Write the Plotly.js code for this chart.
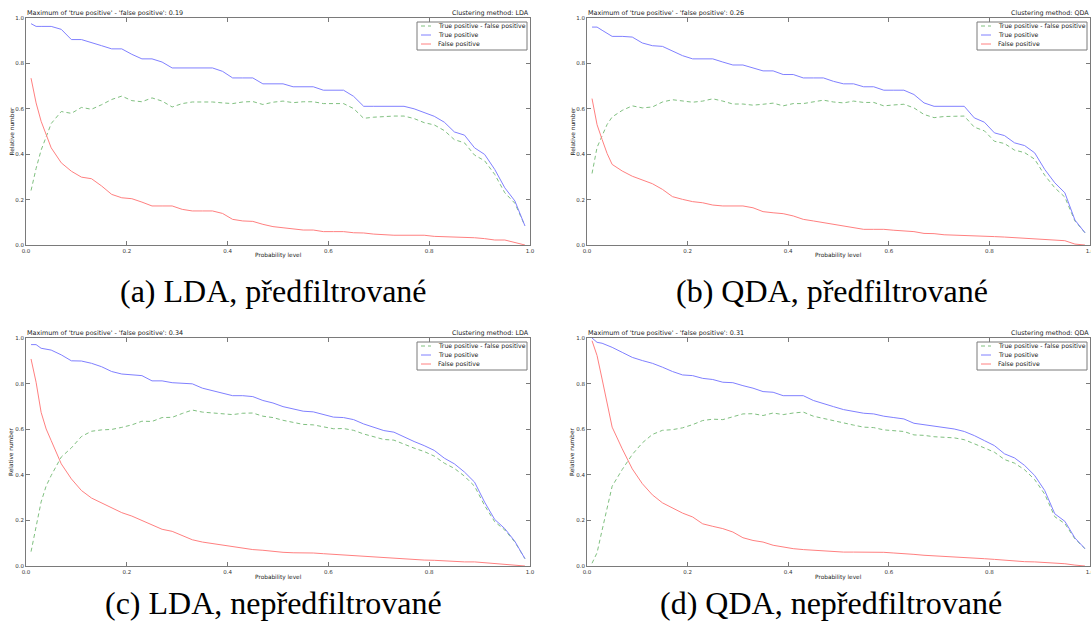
<!DOCTYPE html>
<html>
<head>
<meta charset="utf-8">
<script src="https://cdn.plot.ly/plotly-3.0.1.min.js"></script>
<style>html,body{margin:0;padding:0;background:#fff;}#chart{width:1091px;height:625px;}</style>
</head>
<body>
<div id="chart"></div>
<script>
// ---------- data ----------
const probLevel = [0.01,0.02,0.03,0.04,0.05,0.07,0.09,0.11,0.13,0.15,0.17,0.19,0.21,0.23,0.25,0.27,0.29,0.31,0.33,0.35,0.37,0.39,0.41,0.43,0.45,0.47,0.49,0.51,0.53,0.55,0.57,0.59,0.61,0.63,0.65,0.67,0.69,0.71,0.73,0.75,0.77,0.79,0.81,0.83,0.85,0.87,0.89,0.91,0.93,0.95,0.97,0.99];

// (a) LDA, předfiltrované
const tpA = [0.975,0.963,0.963,0.963,0.963,0.95,0.905,0.905,0.89,0.878,0.864,0.864,0.84,0.82,0.82,0.806,0.78,0.78,0.78,0.78,0.78,0.765,0.736,0.736,0.736,0.71,0.71,0.71,0.697,0.697,0.697,0.682,0.682,0.682,0.655,0.611,0.611,0.611,0.611,0.611,0.60,0.582,0.567,0.541,0.498,0.484,0.428,0.399,0.333,0.252,0.194,0.084];
const fpA = [0.735,0.626,0.545,0.487,0.428,0.362,0.325,0.299,0.292,0.26,0.223,0.208,0.204,0.189,0.172,0.172,0.172,0.157,0.15,0.15,0.15,0.139,0.113,0.106,0.104,0.091,0.081,0.076,0.07,0.066,0.066,0.059,0.059,0.059,0.054,0.053,0.048,0.044,0.043,0.043,0.043,0.043,0.038,0.037,0.034,0.034,0.032,0.028,0.022,0.022,0.01,0.0];
const diffA = [0.24,0.337,0.418,0.476,0.535,0.588,0.58,0.606,0.598,0.618,0.641,0.656,0.636,0.631,0.648,0.634,0.608,0.623,0.63,0.63,0.63,0.626,0.623,0.63,0.632,0.619,0.629,0.634,0.627,0.631,0.631,0.623,0.623,0.623,0.601,0.558,0.563,0.567,0.568,0.568,0.557,0.539,0.529,0.504,0.464,0.45,0.396,0.371,0.311,0.23,0.184,0.084];

// (b) QDA, předfiltrované
const tpB = [0.96,0.96,0.946,0.934,0.919,0.919,0.916,0.89,0.878,0.875,0.853,0.834,0.82,0.82,0.82,0.806,0.793,0.793,0.78,0.767,0.767,0.751,0.751,0.736,0.736,0.736,0.721,0.71,0.71,0.697,0.697,0.682,0.682,0.682,0.663,0.626,0.611,0.611,0.611,0.611,0.56,0.541,0.494,0.482,0.45,0.438,0.406,0.333,0.274,0.23,0.11,0.054];
const fpB = [0.645,0.53,0.465,0.403,0.355,0.326,0.303,0.286,0.27,0.245,0.213,0.201,0.191,0.186,0.176,0.172,0.172,0.172,0.164,0.147,0.142,0.138,0.128,0.113,0.106,0.098,0.091,0.084,0.076,0.069,0.069,0.069,0.065,0.062,0.059,0.051,0.05,0.045,0.044,0.043,0.041,0.038,0.037,0.035,0.032,0.031,0.028,0.026,0.022,0.019,0.004,0.0];
const diffB = [0.315,0.43,0.481,0.531,0.564,0.593,0.613,0.604,0.608,0.63,0.64,0.633,0.629,0.634,0.644,0.634,0.621,0.621,0.616,0.62,0.625,0.613,0.623,0.623,0.63,0.638,0.63,0.626,0.634,0.628,0.628,0.613,0.617,0.62,0.604,0.575,0.561,0.566,0.567,0.568,0.519,0.503,0.457,0.447,0.418,0.407,0.378,0.307,0.252,0.211,0.106,0.054];

// (c) LDA, nepředfiltrované
const tpC = [0.971,0.971,0.955,0.952,0.947,0.926,0.90,0.899,0.889,0.874,0.853,0.842,0.838,0.835,0.812,0.812,0.804,0.803,0.799,0.78,0.769,0.756,0.747,0.747,0.743,0.726,0.715,0.699,0.689,0.679,0.676,0.663,0.653,0.651,0.642,0.623,0.609,0.594,0.587,0.565,0.546,0.528,0.507,0.473,0.448,0.412,0.368,0.28,0.204,0.164,0.108,0.032];
const fpC = [0.908,0.806,0.674,0.601,0.55,0.448,0.382,0.331,0.298,0.277,0.254,0.234,0.219,0.20,0.178,0.161,0.152,0.134,0.115,0.105,0.098,0.091,0.083,0.077,0.072,0.069,0.064,0.06,0.058,0.058,0.057,0.054,0.051,0.048,0.047,0.044,0.041,0.039,0.035,0.032,0.029,0.026,0.025,0.022,0.02,0.018,0.018,0.015,0.01,0.006,0.003,0.0];
const diffC = [0.063,0.165,0.281,0.351,0.397,0.478,0.518,0.568,0.591,0.597,0.599,0.608,0.619,0.635,0.634,0.651,0.652,0.669,0.684,0.675,0.671,0.665,0.664,0.67,0.671,0.657,0.651,0.639,0.631,0.621,0.619,0.609,0.602,0.603,0.595,0.579,0.568,0.555,0.552,0.533,0.517,0.502,0.482,0.451,0.428,0.394,0.35,0.265,0.194,0.158,0.105,0.032];

// (d) QDA, nepředfiltrované
const tpD = [1.0,0.981,0.977,0.968,0.959,0.937,0.915,0.901,0.889,0.872,0.853,0.838,0.835,0.823,0.818,0.806,0.804,0.791,0.78,0.765,0.762,0.747,0.747,0.747,0.726,0.711,0.699,0.686,0.679,0.67,0.667,0.657,0.651,0.645,0.626,0.62,0.612,0.606,0.601,0.59,0.572,0.55,0.528,0.492,0.474,0.441,0.397,0.331,0.229,0.196,0.123,0.076];
const fpD = [0.988,0.923,0.82,0.718,0.609,0.514,0.426,0.361,0.312,0.277,0.255,0.232,0.215,0.185,0.174,0.164,0.149,0.124,0.112,0.105,0.091,0.083,0.076,0.072,0.069,0.064,0.063,0.061,0.061,0.061,0.06,0.06,0.057,0.055,0.051,0.047,0.045,0.042,0.039,0.036,0.035,0.032,0.029,0.025,0.023,0.019,0.018,0.016,0.013,0.01,0.004,0.0];
const diffD = [0.012,0.058,0.157,0.25,0.35,0.423,0.489,0.54,0.577,0.595,0.598,0.606,0.62,0.638,0.644,0.642,0.655,0.667,0.668,0.66,0.671,0.664,0.671,0.675,0.657,0.647,0.636,0.625,0.618,0.609,0.607,0.597,0.594,0.59,0.575,0.573,0.567,0.564,0.562,0.554,0.537,0.518,0.499,0.467,0.451,0.422,0.379,0.315,0.216,0.186,0.119,0.076];

const seriesNames = ["True positive - false positive", "True positive", "False positive"];
const maxLabels = ["0.19", "0.26", "0.34", "0.31"];
const methods = ["LDA", "QDA", "LDA", "QDA"];
const captions = ["(a) LDA, předfiltrované", "(b) QDA, předfiltrované", "(c) LDA, nepředfiltrované", "(d) QDA, nepředfiltrované"];
const tickVals = [0, 0.2, 0.4, 0.6, 0.8, 1.0];
const tickText = ["0.0", "0.2", "0.4", "0.6", "0.8", "1.0"];
const xAxisTitle = "Probability level";
const yAxisTitle = "Relative number";

const panelData = [
  [diffA, tpA, fpA],
  [diffB, tpB, fpB],
  [diffC, tpC, fpC],
  [diffD, tpD, fpD]
];

// ---------- layout geometry (pixels) ----------
const W = 1091, H = 625;
const boxes = [
  {x0: 26, x1: 530, y0: 18, y1: 245},
  {x0: 587, x1: 1090, y0: 18, y1: 245},
  {x0: 26, x1: 530, y0: 338, y1: 566},
  {x0: 587, x1: 1090, y0: 338, y1: 566}
];
const captionPos = [{x: 273, y: 291}, {x: 832, y: 291}, {x: 273, y: 603}, {x: 831, y: 603}];
const px = x => x / W;
const py = y => 1 - y / H;

const lineStyles = [
  {color: "#80c080", width: 1, dash: "4px,3px"},
  {color: "#8080ff", width: 1, dash: "solid"},
  {color: "#ff8080", width: 1, dash: "solid"}
];
const small = "DejaVu Sans, Bitstream Vera Sans, sans-serif";
const serifFont = "'Liberation Serif', 'Times New Roman', Times, 'DejaVu Serif', serif";
const axisColor = "#7a7a7a";

const traces = [];
const layout = {
  width: W, height: H,
  margin: {l: 0, r: 0, t: 0, b: 0},
  paper_bgcolor: "#ffffff",
  plot_bgcolor: "#ffffff",
  showlegend: false,
  font: {family: small, size: 6, color: "#222"},
  annotations: [],
  shapes: []
};

boxes.forEach((b, i) => {
  const n = i + 1;
  const xa = "xaxis" + (n === 1 ? "" : n), ya = "yaxis" + (n === 1 ? "" : n);
  const xr = "x" + (n === 1 ? "" : n), yr = "y" + (n === 1 ? "" : n);
  panelData[i].forEach((vals, k) => {
    traces.push({
      type: "scatter", mode: "lines",
      x: probLevel, y: vals,
      xaxis: xr, yaxis: yr,
      name: seriesNames[k],
      line: lineStyles[k],
      hoverinfo: "skip"
    });
  });
  const common = {
    range: [0, 1], tickvals: tickVals, ticktext: tickText,
    showline: true, mirror: "ticks", linecolor: axisColor, linewidth: 1,
    ticks: "inside", ticklen: 4, tickcolor: axisColor, tickwidth: 1,
    showgrid: false, zeroline: false, fixedrange: true,
    ticklabeloverflow: "allow",
    tickfont: {family: small, size: 5.5, color: "#333"}
  };
  layout[xa] = Object.assign({}, common, {domain: [px(b.x0), px(b.x1)], anchor: yr, ticklabelstandoff: 0});
  layout[ya] = Object.assign({}, common, {domain: [py(b.y1), py(b.y0)], anchor: xr, ticklabelstandoff: 0});

  // titles above plot
  layout.annotations.push({
    xref: "paper", yref: "paper", x: px(b.x0), y: py(b.y0 - 0.5), xanchor: "left", yanchor: "bottom",
    text: "Maximum of 'true positive' - 'false positive': " + maxLabels[i], showarrow: false,
    font: {family: small, size: 6.4, color: "#222"}, borderpad: 0
  });
  layout.annotations.push({
    xref: "paper", yref: "paper", x: px(b.x1), y: py(b.y0 - 0.5), xanchor: "right", yanchor: "bottom",
    text: "Clustering method: " + methods[i], showarrow: false,
    font: {family: small, size: 6.4, color: "#222"}, borderpad: 0
  });
  // axis titles
  layout.annotations.push({
    xref: "paper", yref: "paper", x: px((b.x0 + b.x1) / 2), y: py(b.y1 + 11), xanchor: "center", yanchor: "middle",
    text: xAxisTitle, showarrow: false, font: {family: small, size: 5.8, color: "#222"}, borderpad: 0
  });
  layout.annotations.push({
    xref: "paper", yref: "paper", x: px(b.x0 - 15), y: py((b.y0 + b.y1) / 2), xanchor: "center", yanchor: "middle",
    text: yAxisTitle, textangle: -90, showarrow: false, font: {family: small, size: 5.8, color: "#222"}, borderpad: 0
  });
  // caption
  layout.annotations.push({
    xref: "paper", yref: "paper", x: px(captionPos[i].x), y: py(captionPos[i].y), xanchor: "center", yanchor: "middle",
    text: captions[i], showarrow: false, font: {family: serifFont, size: 32, color: "#000"}
  });

  // legend box (drawn manually, matplotlib-style)
  const lr = b.x1 - 3, lt = b.y0 + 4, lw = 110, lh = 28;
  layout.shapes.push({
    type: "rect", xref: "paper", yref: "paper",
    x0: px(lr - lw), x1: px(lr), y0: py(lt + lh), y1: py(lt),
    line: {color: axisColor, width: 1}, fillcolor: "#ffffff", layer: "above"
  });
  seriesNames.forEach((name, k) => {
    const yy = lt + 4 + k * 9;
    layout.shapes.push({
      type: "line", xref: "paper", yref: "paper",
      x0: px(lr - lw + 4), x1: px(lr - lw + 14), y0: py(yy), y1: py(yy),
      line: lineStyles[k], layer: "above"
    });
    layout.annotations.push({
      xref: "paper", yref: "paper", x: px(lr - lw + 20), y: py(yy), xanchor: "left", yanchor: "middle",
      text: name, showarrow: false, font: {family: small, size: 6.2, color: "#222"}, borderpad: 0
    });
  });
});

Plotly.newPlot("chart", traces, layout, {staticPlot: true, displayModeBar: false});
</script>
</body>
</html>
